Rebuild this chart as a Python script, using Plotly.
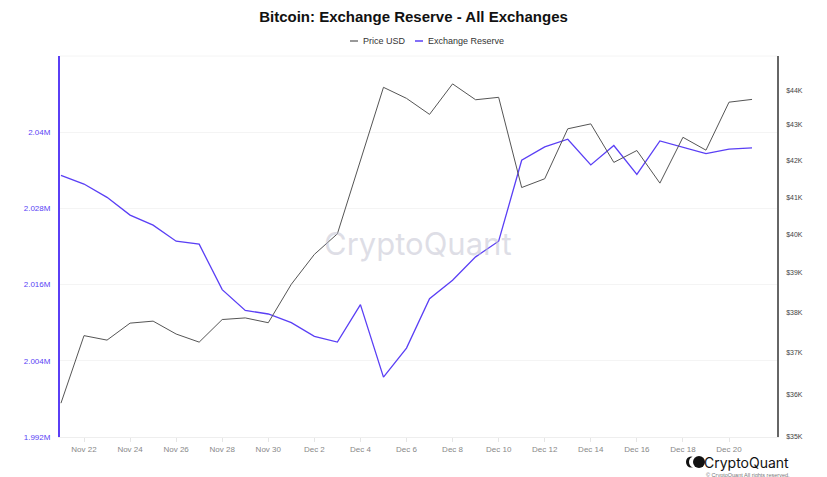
import numpy as np
import pandas as pd
import plotly.graph_objects as go

dates = pd.date_range("2023-11-21", "2023-12-21", freq="D")

price_usd = [35790, 37420, 37310, 37730, 37780, 37460, 37260, 37820, 37860, 37740,
             38710, 39480, 40020, 42020, 44080, 43760, 43300, 44180, 43720, 43790,
             41260, 41500, 42890, 43030, 41950, 42280, 41380, 42650, 42290, 43650,
             43730]

exchange_reserve = [2033210, 2031840, 2029740, 2026940, 2025360, 2022840, 2022360,
                    2015210, 2011940, 2011370, 2010000, 2007840, 2006950, 2012840,
                    2001430, 2006010, 2013790, 2016680, 2020370, 2022840, 2035580,
                    2037680, 2038890, 2034840, 2037900, 2033370, 2038630, 2037680,
                    2036640, 2037320, 2037520]

x_tickvals = dates[1::2]
left_tickvals = [1992000, 2004000, 2016000, 2028000, 2040000]
left_ticktext = ["1.992M", "2.004M", "2.016M", "2.028M", "2.04M"]
right_tickvals = [35000, 36000, 37000, 38000, 39000, 40000, 41000, 42000, 43000, 44000]
right_ticktext = ["$35K", "$36K", "$37K", "$38K", "$39K", "$40K", "$41K", "$42K", "$43K", "$44K"]

BLUE = "#5a3ff5"
GRAY = "#555555"
FONT = "Arial, Liberation Sans, sans-serif"

fig = go.Figure()
fig.add_trace(go.Scatter(x=dates, y=exchange_reserve, mode="lines", name="Exchange Reserve",
                         line=dict(color=BLUE, width=1.3), yaxis="y", showlegend=False))
fig.add_trace(go.Scatter(x=dates, y=price_usd, mode="lines", name="Price USD",
                         line=dict(color=GRAY, width=1), yaxis="y2", showlegend=False))

fig.update_layout(
    width=827, height=477,
    margin=dict(l=60, r=50, t=56, b=40),
    paper_bgcolor="white", plot_bgcolor="white",
    font=dict(family=FONT),
    title=dict(text="<b>Bitcoin: Exchange Reserve - All Exchanges</b>",
               x=0.5, xanchor="center", y=1 - 17 / 477, yanchor="middle",
               font=dict(size=15, color="#111111", family=FONT)),
    xaxis=dict(type="date",
               range=["2023-11-20 23:00", "2023-12-22 02:00"],
               tickvals=x_tickvals, tickformat="%b %-d",
               showgrid=False, showline=True, linecolor="#eeeeee", linewidth=1,
               ticks="outside", ticklen=4, tickcolor="#e6e6e6",
               tickfont=dict(size=8, color="#888888"), zeroline=False),
    yaxis=dict(range=[1992000, 2052000], tickvals=left_tickvals, ticktext=left_ticktext,
               showgrid=True, gridcolor="#f4f4f4", gridwidth=1,
               showline=True, linecolor=BLUE, linewidth=2,
               ticks="", ticklabelstandoff=6,
               tickfont=dict(size=8, color=BLUE), zeroline=False),
    yaxis2=dict(type="log", range=[np.log10(35000), np.log10(45000)],
                overlaying="y", side="right", anchor="x",
                tickvals=right_tickvals, ticktext=right_ticktext,
                showgrid=False, showline=True, linecolor="#666666", linewidth=1.5,
                ticks="", ticklabelstandoff=6,
                tickfont=dict(size=7, color="#444444"), zeroline=False),
)


def px(x):
    return (x - 60) / 717


def py(y):
    return (437 - y) / 381


# top boundary gridline of plot area
fig.add_shape(type="line", xref="paper", yref="paper", x0=0, x1=1, y0=1, y1=1,
              line=dict(color="#f4f4f4", width=1))

# legend row
fig.add_shape(type="line", xref="paper", yref="paper", x0=px(350), x1=px(358), y0=py(41), y1=py(41),
              line=dict(color=GRAY, width=1.2))
fig.add_annotation(xref="paper", yref="paper", x=px(361), y=py(41),
                   xanchor="left", yanchor="middle", showarrow=False,
                   text="Price USD", font=dict(size=9, color="#333333", family=FONT))
fig.add_shape(type="line", xref="paper", yref="paper", x0=px(415), x1=px(423), y0=py(41), y1=py(41),
              line=dict(color=BLUE, width=1.5))
fig.add_annotation(xref="paper", yref="paper", x=px(426), y=py(41),
                   xanchor="left", yanchor="middle", showarrow=False,
                   text="Exchange Reserve", font=dict(size=9, color="#333333", family=FONT))

# watermark
fig.add_annotation(xref="paper", yref="paper", x=px(418), y=py(243),
                   xanchor="center", yanchor="middle", showarrow=False,
                   text="CryptoQuant", font=dict(size=31, color="rgba(190,190,205,0.5)", family="Inter, Arial"))

# logo text
fig.add_annotation(xref="paper", yref="paper", x=px(791), y=py(462),
                   xanchor="right", yanchor="middle", showarrow=False,
                   text="CryptoQuant", font=dict(size=14, color="#111111", family="Inter, Arial"))
fig.add_annotation(xref="paper", yref="paper", x=px(792), y=py(475),
                   xanchor="right", yanchor="middle", showarrow=False,
                   text="© CryptoQuant All rights reserved.", font=dict(size=5.5, color="#777777", family=FONT))

# logo icon
fig.add_shape(type="circle", xref="paper", yref="paper",
              x0=px(686), x1=px(696), y0=py(467.5), y1=py(456.5),
              fillcolor="#111111", line=dict(width=0))
fig.add_shape(type="circle", xref="paper", yref="paper",
              x0=px(689), x1=px(699), y0=py(467.5), y1=py(456.5),
              fillcolor="white", line=dict(width=0))
fig.add_shape(type="circle", xref="paper", yref="paper",
              x0=px(693), x1=px(705), y0=py(468), y1=py(456),
              fillcolor="#111111", line=dict(width=0))

fig.write_html("out.html")
